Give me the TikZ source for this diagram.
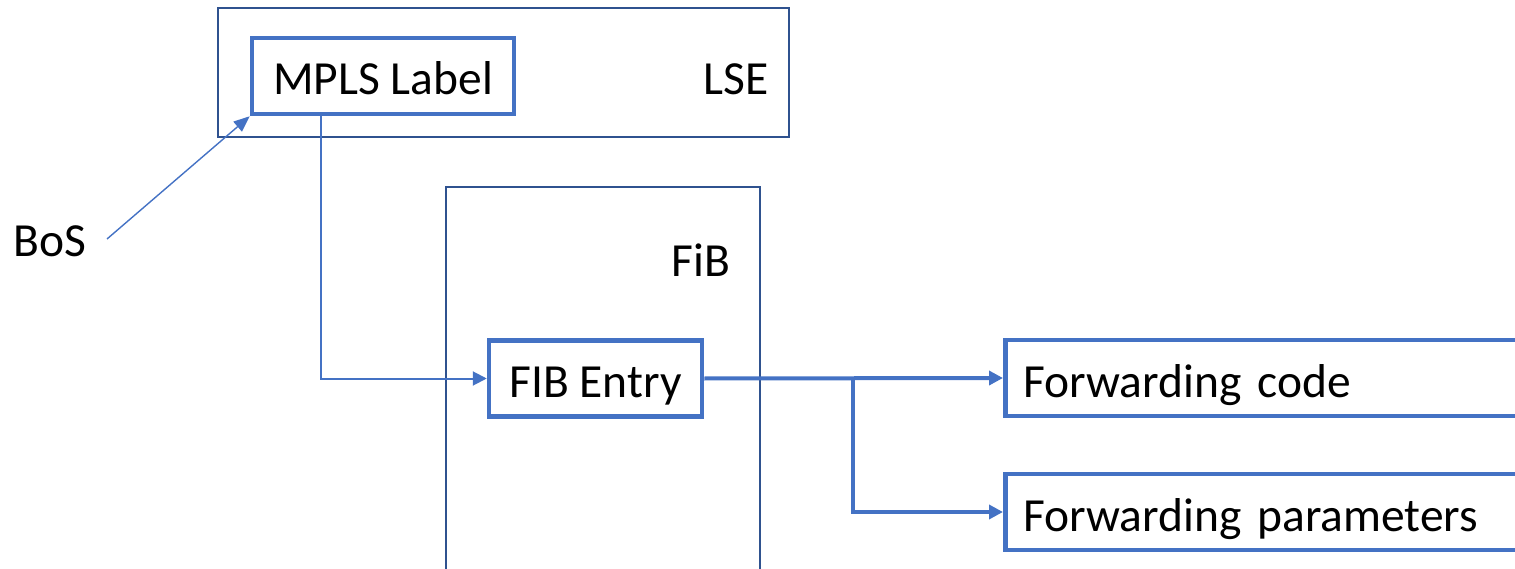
\documentclass[tikz,border=0pt]{standalone}
\usepackage{fontspec}
\setmainfont{Carlito}
\usetikzlibrary{arrows.meta}
\definecolor{accent}{HTML}{4472C4}
\definecolor{frameblue}{HTML}{2F528F}
\begin{document}
\begin{tikzpicture}[x=1pt,y=-1pt,
  every node/.style={font=\fontsize{47.5}{57}\selectfont, text height=38pt, text depth=0pt},
  framebox/.style={draw=frameblue, line width=2pt, inner sep=0pt},
  itembox/.style={draw=accent, line width=4.5pt, inner sep=0pt, minimum height=76pt},
  wideitem/.style={itembox, minimum width=540pt, text width=504pt, align=left, inner xsep=18pt},
  tip/.style={-{Triangle[length=14pt,width=14pt]}},
  thinlink/.style={draw=accent, line width=2pt, tip},
  hairlink/.style={draw=accent, line width=1.4pt, -{Triangle[length=16pt,width=13pt]}},
  thicklink/.style={draw=accent, line width=4pt, tip}]
\useasboundingbox (0,0) rectangle (1515,569);
\clip (0,0) rectangle (1515,569);

% label stack entry
\node[framebox, minimum width=571pt, minimum height=129pt] (lse) at (503.5,72.5) {};
\node (lsetext) at (736,76) {LSE};
\node[itembox, minimum width=262pt] (mpls) at (383,76) {MPLS Label};

% forwarding information base (runs past the lower edge)
\node[framebox, minimum width=314pt, minimum height=420pt] (fib) at (603,397) {};
\node (fibtext) at (701,258) {FiB};
\node[itembox, minimum width=213pt] (entry) at (595.5,378.5) {FIB Entry};

% bottom-of-stack marker
\node (bos) at (50,238) {BoS};
\coordinate (bosend) at (107,239);

% forwarding targets (run past the right edge)
\node[wideitem, anchor=west] (code) at (1003,378) {Forwarding code};
\node[wideitem, anchor=west] (params) at (1003,512) {Forwarding parameters};

% connectors
\draw[hairlink] (bosend) -- (mpls.south west);
\draw[thinlink] ([xshift=-62pt]mpls.south) |- (entry.west);
\coordinate (split) at (853,378);
\draw[thicklink] (entry.east) -- (code.west);
\draw[thicklink] (split) |- (params.west);
\end{tikzpicture}
\end{document}
